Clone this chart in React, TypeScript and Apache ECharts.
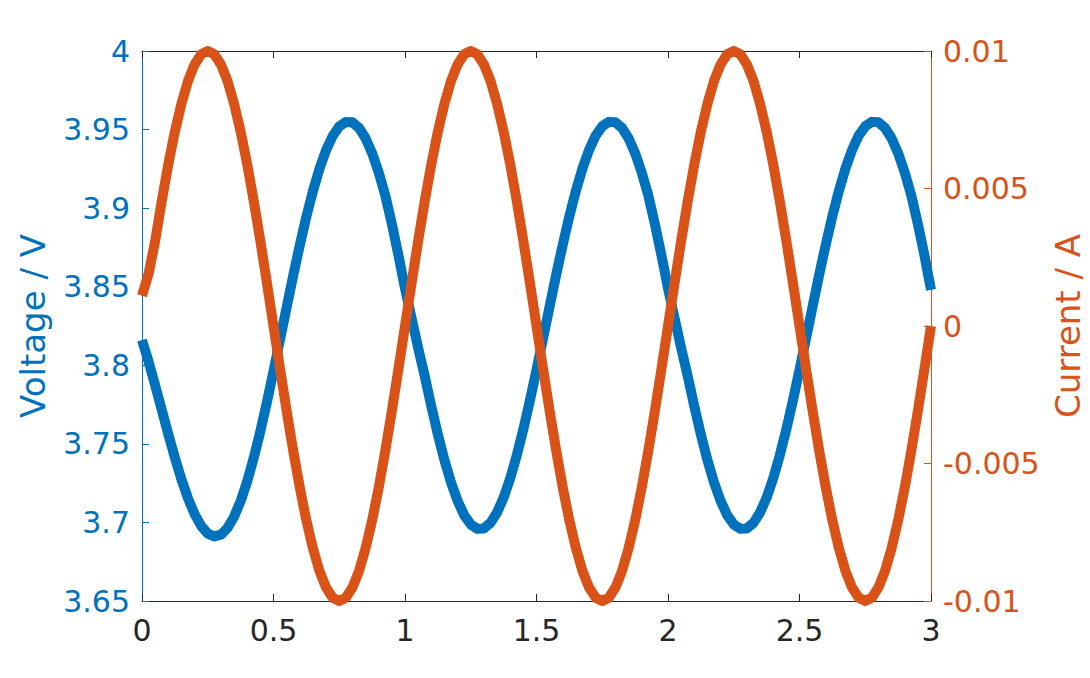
import React, { useEffect, useRef } from 'react';
import * as echarts from 'echarts';

// time samples every 0.025 s from 0 to 3
const timeValues = [
  0, 0.025, 0.05, 0.075, 0.1, 0.125, 0.15, 0.175, 0.2, 0.225,
  0.25, 0.275, 0.3, 0.325, 0.35, 0.375, 0.4, 0.425, 0.45, 0.475,
  0.5, 0.525, 0.55, 0.575, 0.6, 0.625, 0.65, 0.675, 0.7, 0.725,
  0.75, 0.775, 0.8, 0.825, 0.85, 0.875, 0.9, 0.925, 0.95, 0.975,
  1, 1.025, 1.05, 1.075, 1.1, 1.125, 1.15, 1.175, 1.2, 1.225,
  1.25, 1.275, 1.3, 1.325, 1.35, 1.375, 1.4, 1.425, 1.45, 1.475,
  1.5, 1.525, 1.55, 1.575, 1.6, 1.625, 1.65, 1.675, 1.7, 1.725,
  1.75, 1.775, 1.8, 1.825, 1.85, 1.875, 1.9, 1.925, 1.95, 1.975,
  2, 2.025, 2.05, 2.075, 2.1, 2.125, 2.15, 2.175, 2.2, 2.225,
  2.25, 2.275, 2.3, 2.325, 2.35, 2.375, 2.4, 2.425, 2.45, 2.475,
  2.5, 2.525, 2.55, 2.575, 2.6, 2.625, 2.65, 2.675, 2.7, 2.725,
  2.75, 2.775, 2.8, 2.825, 2.85, 2.875, 2.9, 2.925, 2.95, 2.975,
  3,
];

const voltage = [
  3.816, 3.8024, 3.7873, 3.7717, 3.7561, 3.7412, 3.7274, 3.7153, 3.7053, 3.6978,
  3.6929, 3.6911, 3.6922, 3.6964, 3.7036, 3.7136, 3.7261, 3.7412, 3.758, 3.7765,
  3.7962, 3.8165, 3.837, 3.8572, 3.8765, 3.8946, 3.9109, 3.9252, 3.9369, 3.9459,
  3.952, 3.9548, 3.9546, 3.9511, 3.9445, 3.935, 3.9228, 3.9081, 3.89, 3.87,
  3.849, 3.83, 3.811, 3.7931, 3.7739, 3.7559, 3.7396, 3.7254, 3.7137, 3.7047,
  3.6987, 3.6959, 3.6962, 3.6997, 3.7063, 3.7158, 3.728, 3.7427, 3.7593, 3.7776,
  3.7971, 3.8172, 3.8376, 3.8577, 3.8769, 3.8949, 3.9112, 3.9254, 3.9371, 3.9461,
  3.9521, 3.9549, 3.9546, 3.9511, 3.9445, 3.935, 3.9228, 3.9081, 3.89, 3.87,
  3.849, 3.83, 3.811, 3.7931, 3.7739, 3.7559, 3.7396, 3.7254, 3.7137, 3.7047,
  3.6987, 3.6959, 3.6962, 3.6997, 3.7063, 3.7158, 3.728, 3.7427, 3.7593, 3.7776,
  3.7971, 3.8172, 3.8376, 3.8577, 3.8769, 3.8949, 3.9112, 3.9254, 3.9371, 3.9461,
  3.9521, 3.9549, 3.9546, 3.9511, 3.9445, 3.935, 3.9228, 3.9081, 3.89, 3.87,
  3.848,
];

const current = [
  0.0011, 0.0019, 0.00309, 0.00454, 0.00588, 0.00707, 0.00809, 0.00891, 0.00951, 0.00988,
  0.01, 0.00988, 0.00951, 0.00891, 0.00809, 0.00707, 0.00588, 0.00454, 0.00309, 0.00156,
  0, -0.00156, -0.00309, -0.00454, -0.00588, -0.00707, -0.00809, -0.00891, -0.00951, -0.00988,
  -0.01, -0.00988, -0.00951, -0.00891, -0.00809, -0.00707, -0.00588, -0.00454, -0.00309, -0.00156,
  0, 0.00156, 0.00309, 0.00454, 0.00588, 0.00707, 0.00809, 0.00891, 0.00951, 0.00988,
  0.01, 0.00988, 0.00951, 0.00891, 0.00809, 0.00707, 0.00588, 0.00454, 0.00309, 0.00156,
  0, -0.00156, -0.00309, -0.00454, -0.00588, -0.00707, -0.00809, -0.00891, -0.00951, -0.00988,
  -0.01, -0.00988, -0.00951, -0.00891, -0.00809, -0.00707, -0.00588, -0.00454, -0.00309, -0.00156,
  0, 0.00156, 0.00309, 0.00454, 0.00588, 0.00707, 0.00809, 0.00891, 0.00951, 0.00988,
  0.01, 0.00988, 0.00951, 0.00891, 0.00809, 0.00707, 0.00588, 0.00454, 0.00309, 0.00156,
  0, -0.00156, -0.00309, -0.00454, -0.00588, -0.00707, -0.00809, -0.00891, -0.00951, -0.00988,
  -0.01, -0.00988, -0.00951, -0.00891, -0.00809, -0.00707, -0.00588, -0.00454, -0.00309, -0.00156,
  0,
];

const xRange = { min: 0, max: 3, interval: 0.5 };
const voltageRange = { min: 3.65, max: 4, interval: 0.05 };
const currentRange = { min: -0.01, max: 0.01, interval: 0.005 };

const BLUE = '#0072BD';
const ORANGE = '#D95319';
const DARK = '#262626';
const FONT = 'DejaVu Sans';

export default function App() {
  const ref = useRef<HTMLDivElement>(null);

  useEffect(() => {
    if (!ref.current) return;
    const chart = echarts.init(ref.current, undefined, { renderer: 'svg' });
    const vData = timeValues.map((t, i) => [t, voltage[i]]);
    const iData = timeValues.map((t, i) => [t, current[i]]);

    chart.setOption({
      animation: false,
      backgroundColor: '#ffffff',
      grid: {
        left: 142,
        right: 159,
        top: 51,
        bottom: 77,
        containLabel: false,
        outerBoundsMode: 'none',
      },
      xAxis: [
        {
          type: 'value',
          position: 'bottom',
          ...xRange,
          axisLine: { show: true, onZero: false, lineStyle: { color: DARK, width: 1 } },
          axisTick: { show: true, inside: true, length: 7, lineStyle: { color: DARK } },
          axisLabel: { color: DARK, fontSize: 30, fontFamily: FONT, margin: 14 },
          splitLine: { show: false },
        },
        {
          type: 'value',
          position: 'top',
          ...xRange,
          axisLine: { show: true, onZero: false, lineStyle: { color: DARK, width: 1 } },
          axisTick: { show: true, inside: true, length: 7, lineStyle: { color: DARK } },
          axisLabel: { show: false },
          splitLine: { show: false },
        },
      ],
      yAxis: [
        {
          type: 'value',
          position: 'left',
          ...voltageRange,
          name: 'Voltage / V',
          nameLocation: 'middle',
          nameRotate: 90,
          nameGap: 92,
          nameTextStyle: { color: BLUE, fontSize: 34, fontFamily: FONT },
          axisLine: { show: true, onZero: false, lineStyle: { color: BLUE, width: 1 } },
          axisTick: { show: true, inside: true, length: 7, lineStyle: { color: BLUE } },
          axisLabel: { color: BLUE, fontSize: 30, fontFamily: FONT, margin: 12 },
          splitLine: { show: false },
        },
        {
          type: 'value',
          position: 'right',
          ...currentRange,
          name: 'Current / A',
          nameLocation: 'middle',
          nameRotate: 90,
          nameGap: 119,
          nameTextStyle: { color: ORANGE, fontSize: 34, fontFamily: FONT },
          axisLine: { show: true, onZero: false, lineStyle: { color: ORANGE, width: 1 } },
          axisTick: { show: true, inside: true, length: 7, lineStyle: { color: ORANGE } },
          axisLabel: { color: ORANGE, fontSize: 30, fontFamily: FONT, margin: 12 },
          splitLine: { show: false },
        },
      ],
      series: [
        {
          name: 'Voltage',
          type: 'line',
          xAxisIndex: 0,
          yAxisIndex: 0,
          data: vData,
          smooth: false,
          showSymbol: false,
          symbol: 'none',
          clip: true,
          lineStyle: { color: BLUE, width: 10, cap: 'butt', join: 'round' },
          z: 2,
        },
        {
          name: 'Current',
          type: 'line',
          xAxisIndex: 0,
          yAxisIndex: 1,
          data: iData,
          smooth: false,
          showSymbol: false,
          symbol: 'none',
          clip: true,
          lineStyle: { color: ORANGE, width: 10, cap: 'butt', join: 'round' },
          z: 3,
        },
      ],
    });

    return () => chart.dispose();
  }, []);

  return (
    <div
      ref={ref}
      style={{ position: 'fixed', left: 0, top: 0, width: 1090, height: 678, background: '#fff' }}
    />
  );
}
